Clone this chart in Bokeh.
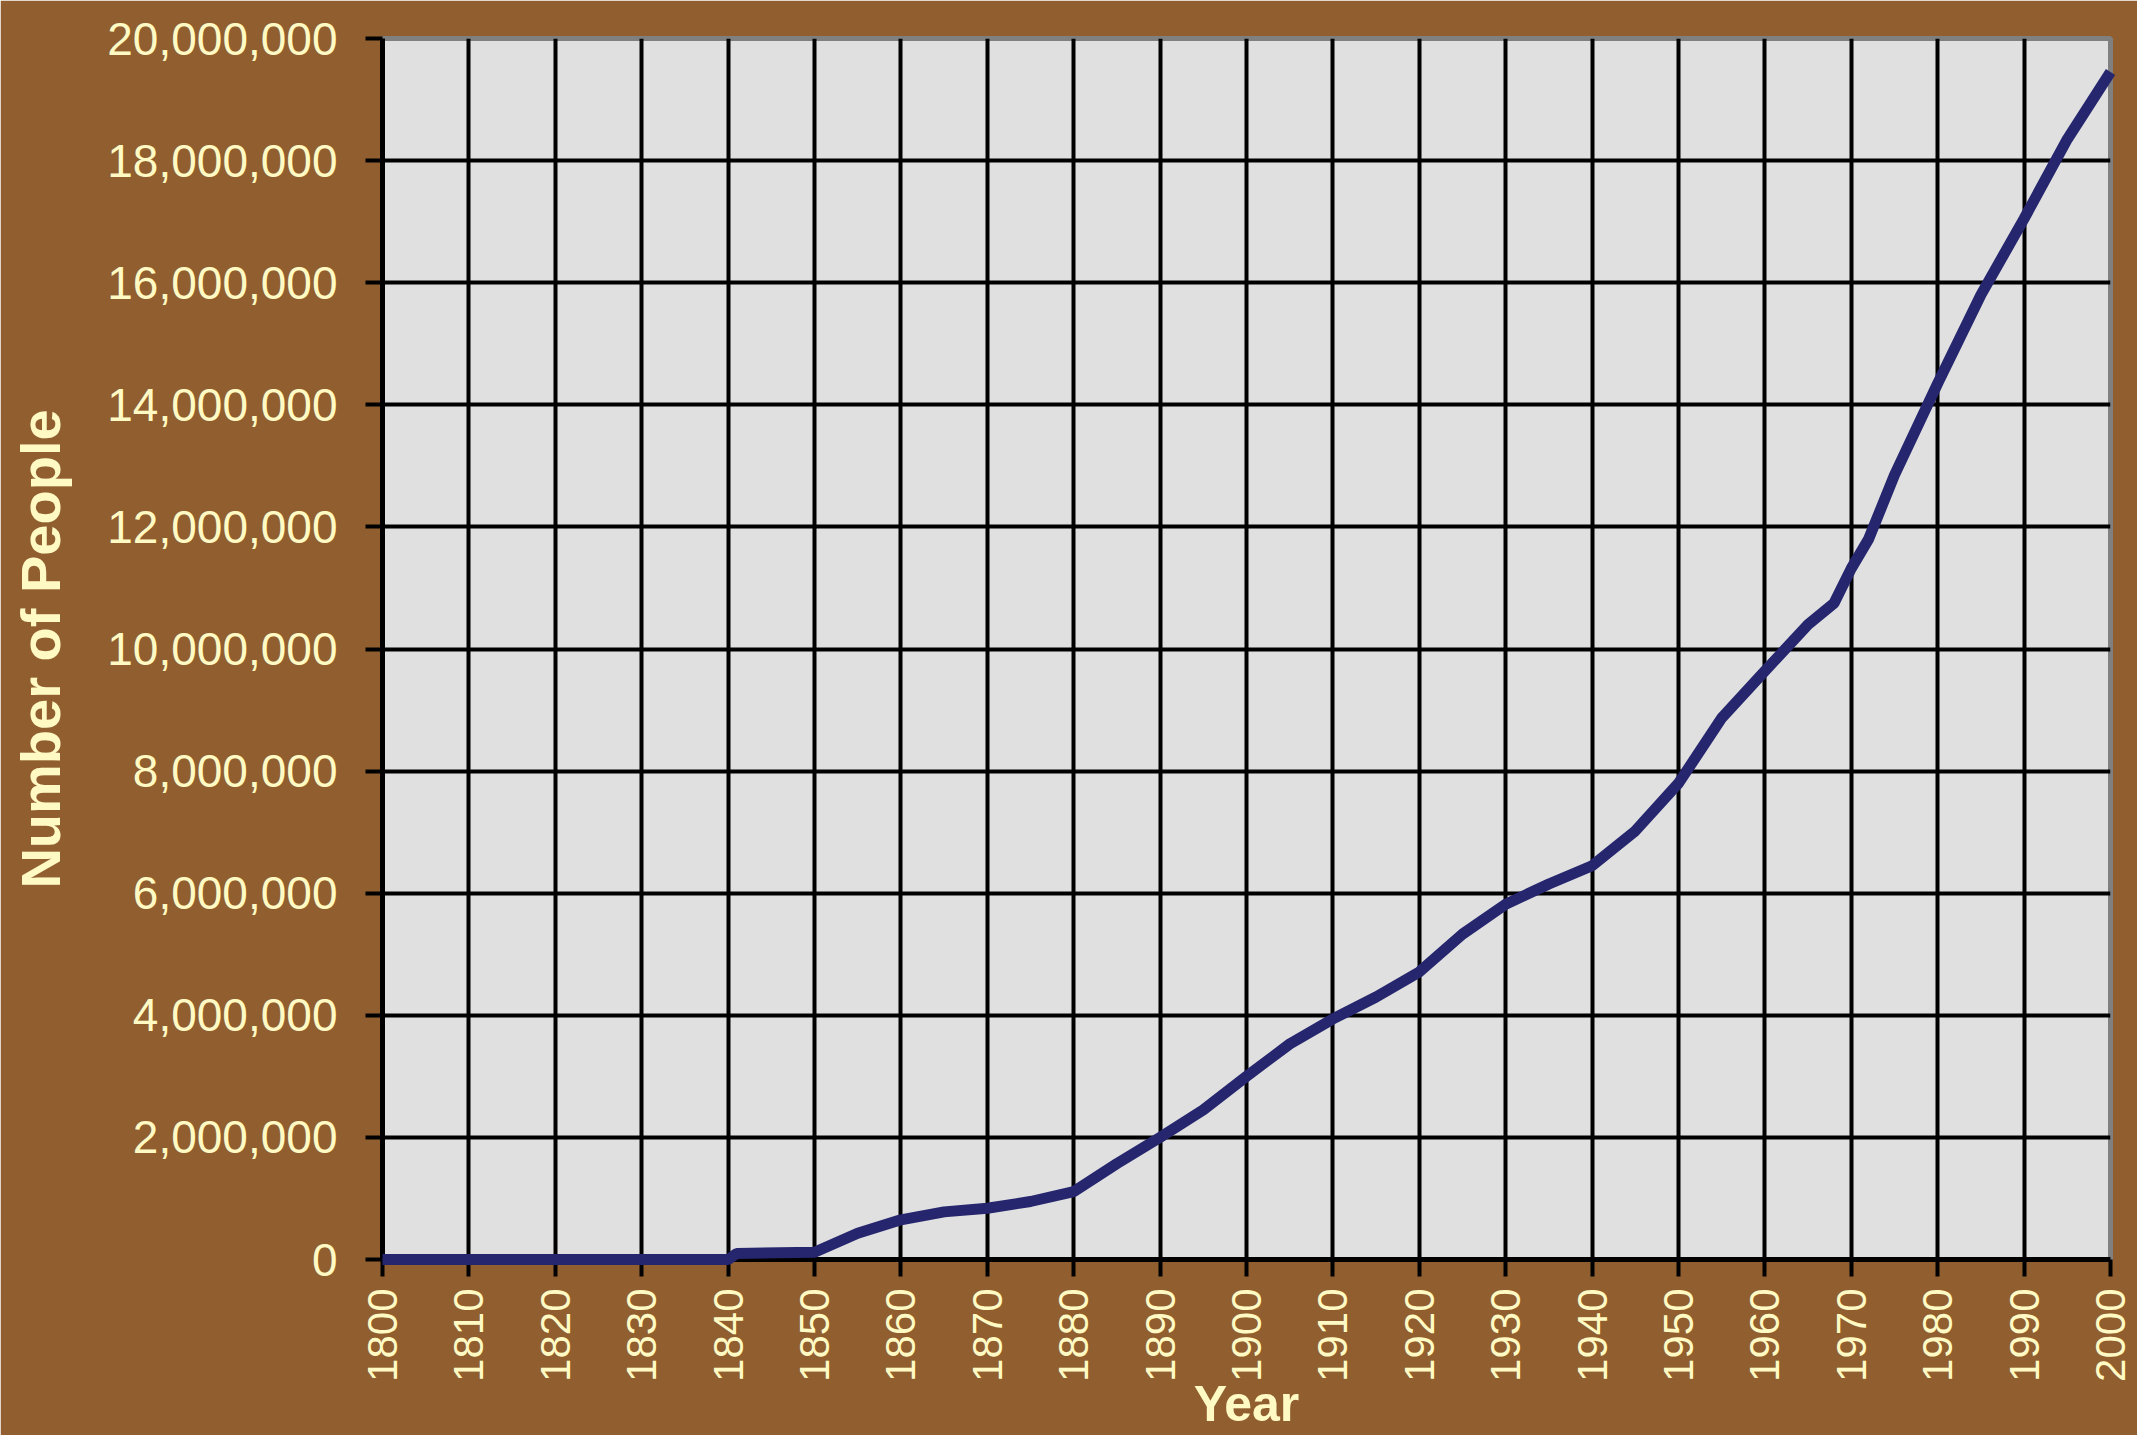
import math
from bokeh.plotting import figure
from bokeh.models import Range1d, FixedTicker, NumeralTickFormatter
from bokeh.embed import file_html
from bokeh.resources import INLINE

# ---- data ----
years = [1800, 1810, 1820, 1830, 1840, 1841, 1850, 1855, 1860, 1865, 1870, 1875,
         1880, 1885, 1890, 1895, 1900, 1905, 1910, 1915, 1920, 1925, 1930, 1935,
         1940, 1945, 1950, 1955, 1960, 1965, 1968, 1970, 1972, 1975, 1980, 1985,
         1990, 1995, 2000]
population = [0, 0, 0, 0, 0, 100_000, 120_000, 430_000, 650_000, 780_000, 840_000, 950_000,
              1_110_000, 1_570_000, 2_000_000, 2_450_000, 3_000_000, 3_530_000, 3_940_000,
              4_300_000, 4_710_000, 5_330_000, 5_820_000, 6_150_000,
              6_450_000, 7_020_000, 7_800_000, 8_870_000, 9_640_000, 10_400_000, 10_750_000,
              11_320_000, 11_800_000, 12_850_000, 14_350_000, 15_800_000,
              17_050_000, 18_350_000, 19_450_000]

x_ticks = list(range(1800, 2001, 10))
y_ticks = list(range(0, 20_000_001, 2_000_000))

y_label_text = "Number of People"
x_label_text = "Year"

BROWN = "#915E2F"
CREAM = "#FFFAC4"
PLOT_BG = "#E0E0E0"
LINE = "#26266F"

p = figure(width=2137, height=1435, output_backend="svg", toolbar_location=None,
           x_range=Range1d(1800, 2000), y_range=Range1d(0, 20_000_000),
           min_border_left=382, min_border_right=27, min_border_top=38,
           min_border_bottom=176,
           background_fill_color=PLOT_BG, border_fill_color=BROWN)

p.outline_line_color = "#808080"
p.outline_line_width = 5

# grids
p.xgrid.ticker = FixedTicker(ticks=x_ticks[:-1])
p.ygrid.ticker = FixedTicker(ticks=y_ticks[:-1])
for g in (p.xgrid, p.ygrid):
    g.grid_line_color = "black"
    g.grid_line_width = 4
    g.grid_line_alpha = 1.0

# axes
p.xaxis.ticker = FixedTicker(ticks=x_ticks)
p.yaxis.ticker = FixedTicker(ticks=y_ticks)
p.yaxis.formatter = NumeralTickFormatter(format="0,0")
for ax in (p.xaxis, p.yaxis):
    ax.axis_line_color = "black"
    ax.axis_line_width = 5
    ax.major_tick_line_color = "black"
    ax.major_tick_line_width = 4
    ax.major_tick_out = 17
    ax.major_tick_in = 0
    ax.minor_tick_line_color = None
    ax.major_label_text_color = CREAM
    ax.major_label_text_font = "Liberation Sans"
    ax.axis_label_text_font = "Liberation Sans"
    ax.axis_label_text_font_style = "bold"
    ax.axis_label_text_color = CREAM

p.yaxis.major_label_text_font_size = "46px"
p.yaxis.major_label_standoff = 28
p.xaxis.major_label_text_font_size = "42px"
p.xaxis.major_label_orientation = math.pi / 2
p.xaxis.major_label_standoff = 12

p.yaxis.axis_label = y_label_text
p.yaxis.axis_label_text_font_size = "56px"
p.yaxis.axis_label_standoff = 32

p.xaxis.axis_label = x_label_text
p.xaxis.axis_label_text_font_size = "50px"
p.xaxis.axis_label_standoff = -9

p.line(years, population, line_color=LINE, line_width=11, level="overlay")

open("out.html", "w").write(file_html(p, INLINE))
